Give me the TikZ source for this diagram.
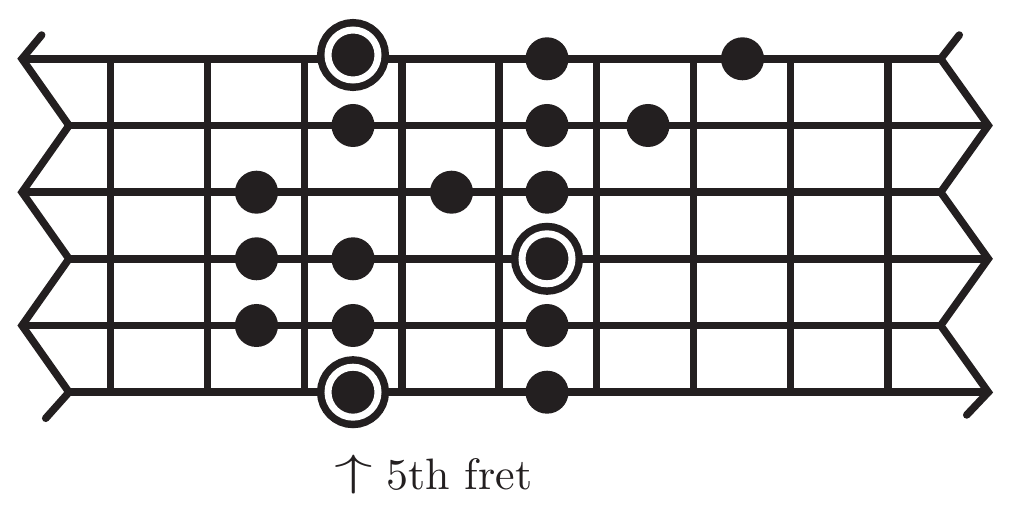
\documentclass[tikz,border=0pt]{standalone}
\usepackage{fontspec}
\usepackage{tikz}
\usetikzlibrary{positioning}
\newfontfamily\lblfont{lmroman10-regular}[Extension=.otf]
\definecolor{ink}{HTML}{231F20}
\tikzset{
    fretdot/.style = {circle, fill=ink, minimum size=43, inner sep=0pt},
    fretdotr/.style = {circle, fill=ink, draw=ink, double=white, double distance=7, line width=7.5, minimum size=50, inner sep=0pt}, % root
    edgen/.style = {-,line width=7.5,ink,line join=miter},
    edget/.style = {-,line width=7.5,ink,line join=miter,line cap=round}, % neck ends
    fretlabel/.style = {anchor=base west, inner sep=0pt, text=ink, font=\lblfont\fontsize{44}{52}\selectfont}
}
\begin{document}
\begin{tikzpicture}[x=1pt,y=-1pt]
  \useasboundingbox (0,0) rectangle (1009,510);
  % string ends
  \coordinate (tl) at (41.7,35);
  \coordinate (l1) at (22,58.8);
  \coordinate (l2) at (69,125.5);
  \coordinate (l3) at (22,192.2);
  \coordinate (l4) at (69,258.8);
  \coordinate (l5) at (22,325.5);
  \coordinate (l6) at (69,392.2);
  \coordinate (bl) at (45.7,418.3);
  \coordinate (tr) at (959.3,35);
  \coordinate (r1) at (940.7,58.8);
  \coordinate (r2) at (988.3,125.5);
  \coordinate (r3) at (940.7,192.2);
  \coordinate (r4) at (988.3,258.8);
  \coordinate (r5) at (940.7,325.5);
  \coordinate (r6) at (988.3,392.2);
  \coordinate (br) at (966.7,415);
  % frets
  \draw[edgen] (110.3,58.8) -- (110.3,392.2)
               (207.5,58.8) -- (207.5,392.2)
               (304.7,58.8) -- (304.7,392.2)
               (401.9,58.8) -- (401.9,392.2)
               (499.1,58.8) -- (499.1,392.2)
               (596.3,58.8) -- (596.3,392.2)
               (693.4,58.8) -- (693.4,392.2)
               (790.6,58.8) -- (790.6,392.2)
               (887.8,58.8) -- (887.8,392.2);
  % strings
  \draw[edgen] (l1) -- (r1);
  \draw[edgen] (l2) -- (r2);
  \draw[edgen] (l3) -- (r3);
  \draw[edgen] (l4) -- (r4);
  \draw[edgen] (l5) -- (r5);
  \draw[edgen] (l6) -- (r6);
  \draw[edget] (tl) -- (l1) -- (l2) -- (l3) -- (l4) -- (l5) -- (l6) -- (bl);
  \draw[edget] (tr) -- (r1) -- (r2) -- (r3) -- (r4) -- (r5) -- (r6) -- (br);
  % notes
  \node[fretdotr] (s1f5) at (353,55) {};
  \node[fretdot]  (s1f7) at (547,58.8) {};
  \node[fretdot]  (s1f9) at (742.5,58.8) {};
  \node[fretdot]  (s2f5) at (353,125.5) {};
  \node[fretdot]  (s2f7) at (547,125.5) {};
  \node[fretdot]  (s2f8) at (648,125.5) {};
  \node[fretdot]  (s3f4) at (256.5,192.2) {};
  \node[fretdot]  (s3f6) at (451.5,192.2) {};
  \node[fretdot]  (s3f7) at (547,192.2) {};
  \node[fretdot]  (s4f4) at (256.5,258.8) {};
  \node[fretdot]  (s4f5) at (353,258.8) {};
  \node[fretdotr] (s4f7) at (547,258.8) {};
  \node[fretdot]  (s5f4) at (256.5,325.5) {};
  \node[fretdot]  (s5f5) at (353,325.5) {};
  \node[fretdot]  (s5f7) at (547,325.5) {};
  \node[fretdotr] (s6f5) at (353,392.2) {};
  \node[fretdot]  (s6f7) at (547,392.2) {};
  \node[fretlabel] (lbl) at (334,489) {\raisebox{4pt}{\scalebox{3.1}[1.76]{$\uparrow$}}\hspace{14pt}5th fret};
\end{tikzpicture}
\end{document}
